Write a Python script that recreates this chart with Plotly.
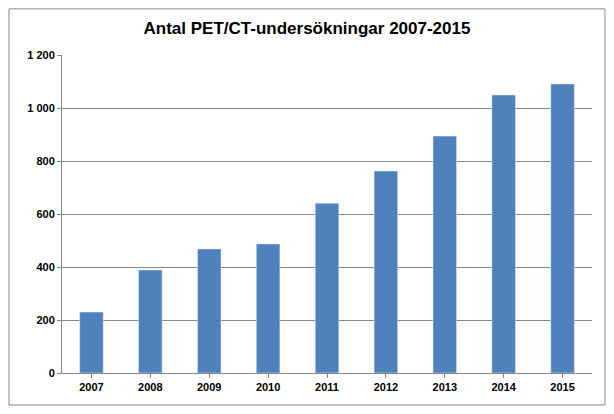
import plotly.graph_objects as go

years = ["2007", "2008", "2009", "2010", "2011", "2012", "2013", "2014", "2015"]
counts = [230, 389, 468, 487, 641, 762, 894, 1049, 1091]
tick_vals = [0, 200, 400, 600, 800, 1000, 1200]
tick_text = ["0", "200", "400", "600", "800", "1 000", "1 200"]

fig = go.Figure(go.Bar(x=years, y=counts, marker_color="#4F81BD", width=0.4))

fig.update_layout(
    width=598, height=398,
    margin=dict(l=54, r=14, t=47, b=33),
    paper_bgcolor="white", plot_bgcolor="white",
    title=dict(text="<b>Antal PET/CT-undersökningar 2007-2015</b>", x=0.5, xanchor="center",
               y=0.95, yanchor="middle", font=dict(family="Liberation Sans", size=17, color="black")),
    font=dict(family="Liberation Sans", size=11, color="black"),
    showlegend=False,
    shapes=[dict(type="rect", xref="paper", yref="paper", x0=-0.1, x1=1.0245, y0=-0.1006, y1=1.145,
                 line=dict(color="#888888", width=1))],
)
fig.update_yaxes(range=[0, 1200], tickvals=tick_vals, ticktext=[f"<b>{t}</b>" for t in tick_text],
                 showgrid=True, gridcolor="#888888", gridwidth=1, zeroline=False,
                 showline=True, linecolor="#888888", ticks="outside", ticklen=4, tickcolor="#888888")
fig.update_xaxes(tickvals=years, ticktext=[f"<b>{y}</b>" for y in years],
                 showline=True, linecolor="#888888", ticks="outside", ticklen=4, tickcolor="#888888")

fig.write_html("out.html")
